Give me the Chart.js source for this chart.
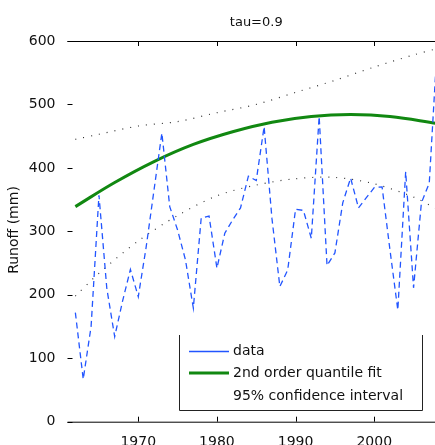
<!DOCTYPE html>
<html>
<head>
<meta charset="utf-8">
<script src="https://cdn.jsdelivr.net/npm/chart.js@4.4.1/dist/chart.umd.min.js"></script>
<style>
  html, body { margin: 0; padding: 0; background: #fff; overflow: hidden; width: 435px; height: 445px; }
  canvas { display: block; }
</style>
</head>
<body>
<canvas id="chart" width="455" height="445" style="width:455px;height:445px"></canvas>
<script>
// values
const years = [1962, 1963, 1964, 1965, 1966, 1967, 1968, 1969, 1970, 1971,
  1972, 1973, 1974, 1975, 1976, 1977, 1978, 1979, 1980, 1981,
  1982, 1983, 1984, 1985, 1986, 1987, 1988, 1989, 1990, 1991,
  1992, 1993, 1994, 1995, 1996, 1997, 1998, 1999, 2000, 2001,
  2002, 2003, 2004, 2005, 2006, 2007, 2008];
const runoff = [172, 67, 150, 357, 210, 134, 190, 240, 197, 275,
  365, 455, 339, 302, 255, 179, 321, 324, 242, 297,
  318, 337, 387, 380, 465, 320, 213, 239, 335, 333,
  289, 481, 246, 266, 345, 384, 337, 353, 369, 370,
  271, 176, 394, 211, 345, 376, 590];

const fitYears = [1962, 1967, 1972, 1977, 1982, 1987, 1992, 1997, 2002, 2008];
const fitValues = [339, 377, 410, 437, 457, 472, 481, 484, 481, 470];

const ciYears = [1962, 1965, 1970, 1975, 1980, 1985, 1990, 1995, 2000, 2005, 2008];
const ciUpper = [445, 453, 466, 473, 487, 500, 519, 538, 559, 578, 588];
const ciLower = [198, 234, 285, 325, 356, 373, 383, 385, 375, 354, 335];

const xTicks = [1970, 1980, 1990, 2000];
const yTicks = [0, 100, 200, 300, 400, 500, 600];

const titleText = "tau=0.9";
const yTitle = "Runoff (mm)";
const legendLabels = ["data", "2nd order quantile fit", "95% confidence interval"];

const FONT = "DejaVu Sans";
const BLUE = "#2255ff";
const GREEN = "#118811";

const pts = (xs, ys) => xs.map((x, i) => ({ x: x, y: ys[i] }));

// axes box, inside ticks, title, y label and legend (matlab look)
const decor = {
  id: "decor",
  afterDraw(chart) {
    const ctx = chart.ctx;
    const a = chart.chartArea;
    const xs = chart.scales.x;
    const ys = chart.scales.y;
    ctx.save();
    ctx.strokeStyle = "#000";
    ctx.lineWidth = 1;
    ctx.beginPath();
    ctx.moveTo(a.left, a.top + 0.5); ctx.lineTo(a.right, a.top + 0.5);
    ctx.moveTo(a.left, a.bottom + 0.5); ctx.lineTo(a.right, a.bottom + 0.5);
    xTicks.forEach(v => {
      const px = Math.round(xs.getPixelForValue(v)) + 0.5;
      ctx.moveTo(px, a.bottom); ctx.lineTo(px, a.bottom - 5);
      ctx.moveTo(px, a.top); ctx.lineTo(px, a.top + 5);
    });
    yTicks.forEach(v => {
      const py = Math.round(ys.getPixelForValue(v)) + 0.5;
      ctx.moveTo(a.left, py); ctx.lineTo(a.left + 5, py);
    });
    ctx.stroke();

    ctx.fillStyle = "#111";
    ctx.font = "13px '" + FONT + "'";
    ctx.textAlign = "center";
    ctx.textBaseline = "middle";
    ctx.fillText(titleText, (a.left + a.right) / 2, 23);

    ctx.save();
    ctx.translate(14, 230);
    ctx.rotate(-Math.PI / 2);
    ctx.font = "14px '" + FONT + "'";
    ctx.fillText(yTitle, 0, 0);
    ctx.restore();

    // legend
    const L = 179.5, R = 422.5, T = 335, B = 410.5;
    ctx.fillStyle = "#fff";
    ctx.fillRect(L, T, R - L, B - T);
    ctx.strokeStyle = "#222";
    ctx.beginPath();
    ctx.moveTo(L, T); ctx.lineTo(L, B); ctx.lineTo(R, B); ctx.lineTo(R, T);
    ctx.stroke();
    const rows = [351, 373, 396];
    ctx.strokeStyle = BLUE; ctx.lineWidth = 1.3;
    ctx.beginPath(); ctx.moveTo(189, rows[0] + 0.5); ctx.lineTo(229, rows[0] + 0.5); ctx.stroke();
    ctx.strokeStyle = GREEN; ctx.lineWidth = 3;
    ctx.beginPath(); ctx.moveTo(189, rows[1]); ctx.lineTo(229, rows[1]); ctx.stroke();
    ctx.fillStyle = "#111";
    ctx.font = "14px '" + FONT + "'";
    ctx.textAlign = "left";
    legendLabels.forEach((t, i) => ctx.fillText(t, 233, rows[i]));
    ctx.restore();
  }
};

new Chart(document.getElementById("chart"), {
  type: "line",
  data: {
    datasets: [
      {
        label: legendLabels[0],
        data: pts(years, runoff),
        borderColor: BLUE,
        borderWidth: 1.3,
        borderDash: [6, 4],
        pointRadius: 0,
        tension: 0,
      },
      {
        label: legendLabels[1],
        data: pts(fitYears, fitValues),
        borderColor: GREEN,
        borderWidth: 3,
        pointRadius: 0,
        tension: 0.4,
      },
      {
        label: legendLabels[2],
        data: pts(ciYears, ciUpper),
        borderColor: "#333",
        borderWidth: 1.2,
        borderDash: [1, 7],
        pointRadius: 0,
        tension: 0.3,
      },
      {
        label: "lower",
        data: pts(ciYears, ciLower),
        borderColor: "#333",
        borderWidth: 1.2,
        borderDash: [1, 7],
        pointRadius: 0,
        tension: 0.3,
      },
    ],
  },
  options: {
    responsive: false,
    animation: false,
    layout: { padding: { top: 41, right: 10, left: 0, bottom: 0 } },
    plugins: { legend: { display: false }, title: { display: false }, tooltip: { enabled: false } },
    scales: {
      x: {
        type: "linear",
        min: 1961,
        max: 2009,
        afterBuildTicks: (s) => { s.ticks = xTicks.map(v => ({ value: v })); },
        afterFit: (s) => { s.height = 23.3; },
        grid: { display: false },
        border: { display: false },
        ticks: {
          color: "#111",
          font: { family: FONT, size: 14 },
          padding: 4,
          maxRotation: 0,
          callback: (v) => String(v),
        },
      },
      y: {
        min: 0,
        max: 600,
        afterBuildTicks: (s) => { s.ticks = yTicks.map(v => ({ value: v })); },
        afterFit: (s) => { s.width = 67.5; },
        grid: { display: false },
        border: { display: false },
        ticks: {
          color: "#111",
          font: { family: FONT, size: 14 },
          padding: 4,
          callback: (v) => String(v),
        },
      },
    },
  },
  plugins: [decor],
});
</script>
</body>
</html>
